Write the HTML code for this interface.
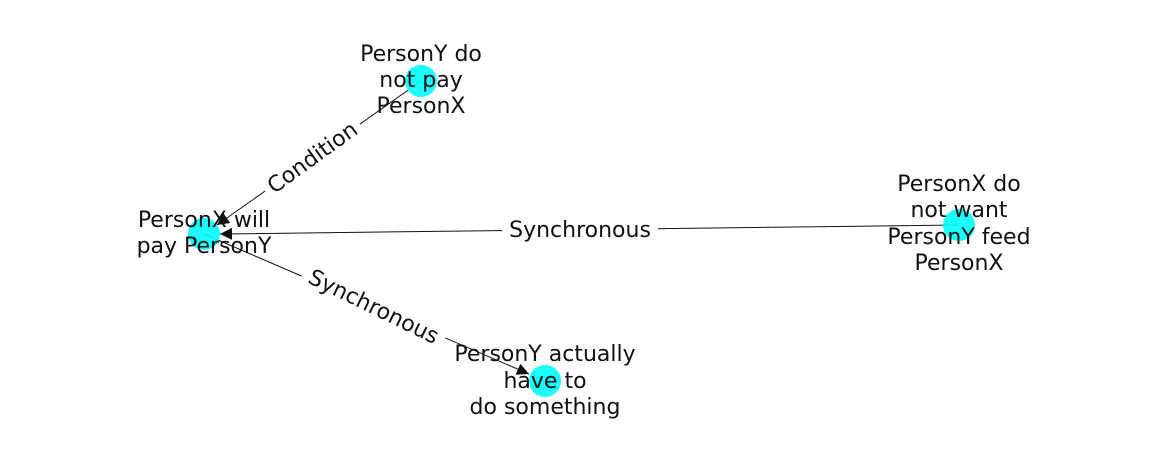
<!DOCTYPE html>
<html><head><meta charset="utf-8"><style>
html,body{margin:0;padding:0;background:#fff;}
svg{display:block;}
text{font-family:"DejaVu Sans","Liberation Sans",sans-serif;font-size:22px;fill:#111;}
</style></head><body>
<svg width="1162" height="462" viewBox="0 0 1162 462" xmlns="http://www.w3.org/2000/svg">
<defs>
<marker id="ah" viewBox="0 0 10 10" refX="10" refY="5" markerWidth="14" markerHeight="12" markerUnits="userSpaceOnUse" orient="auto">
<path d="M0,0 L10,5 L0,10 z" fill="#111"/>
</marker>
</defs>
<line x1="421" y1="81" x2="217" y2="225" stroke="#111" stroke-width="1" marker-end="url(#ah)"/>
<line x1="959" y1="225" x2="220" y2="234" stroke="#111" stroke-width="1" marker-end="url(#ah)"/>
<line x1="204" y1="234" x2="529" y2="374" stroke="#111" stroke-width="1" marker-end="url(#ah)"/>
<circle cx="204" cy="234" r="16" fill="#00ffff" fill-opacity="0.9"/>
<circle cx="421" cy="81" r="16" fill="#00ffff" fill-opacity="0.9"/>
<circle cx="959" cy="225" r="16" fill="#00ffff" fill-opacity="0.9"/>
<circle cx="545" cy="381" r="16" fill="#00ffff" fill-opacity="0.9"/>
<g transform="translate(312,157) rotate(-36)">
<rect x="-58" y="-14" width="116" height="28" fill="#fff"/>
<text x="0" y="8" text-anchor="middle">Condition</text>
</g>
<g transform="translate(580,229)">
<rect x="-78" y="-14" width="156" height="28" fill="#fff"/>
<text x="0" y="8" text-anchor="middle">Synchronous</text>
</g>
<g transform="translate(374,306) rotate(26)">
<rect x="-78" y="-14" width="156" height="28" fill="#fff"/>
<text x="0" y="8" text-anchor="middle">Synchronous</text>
</g>
<text text-anchor="middle"><tspan x="204" y="227">PersonX will</tspan><tspan x="204" y="253">pay PersonY</tspan></text>
<text text-anchor="middle"><tspan x="421" y="61">PersonY do</tspan><tspan x="421" y="87">not pay</tspan><tspan x="421" y="113">PersonX</tspan></text>
<text text-anchor="middle"><tspan x="959" y="191">PersonX do</tspan><tspan x="959" y="217">not want</tspan><tspan x="959" y="244">PersonY feed</tspan><tspan x="959" y="270">PersonX</tspan></text>
<text text-anchor="middle"><tspan x="545" y="361">PersonY actually</tspan><tspan x="545" y="388">have to</tspan><tspan x="545" y="414">do something</tspan></text>
</svg>
</body></html>
